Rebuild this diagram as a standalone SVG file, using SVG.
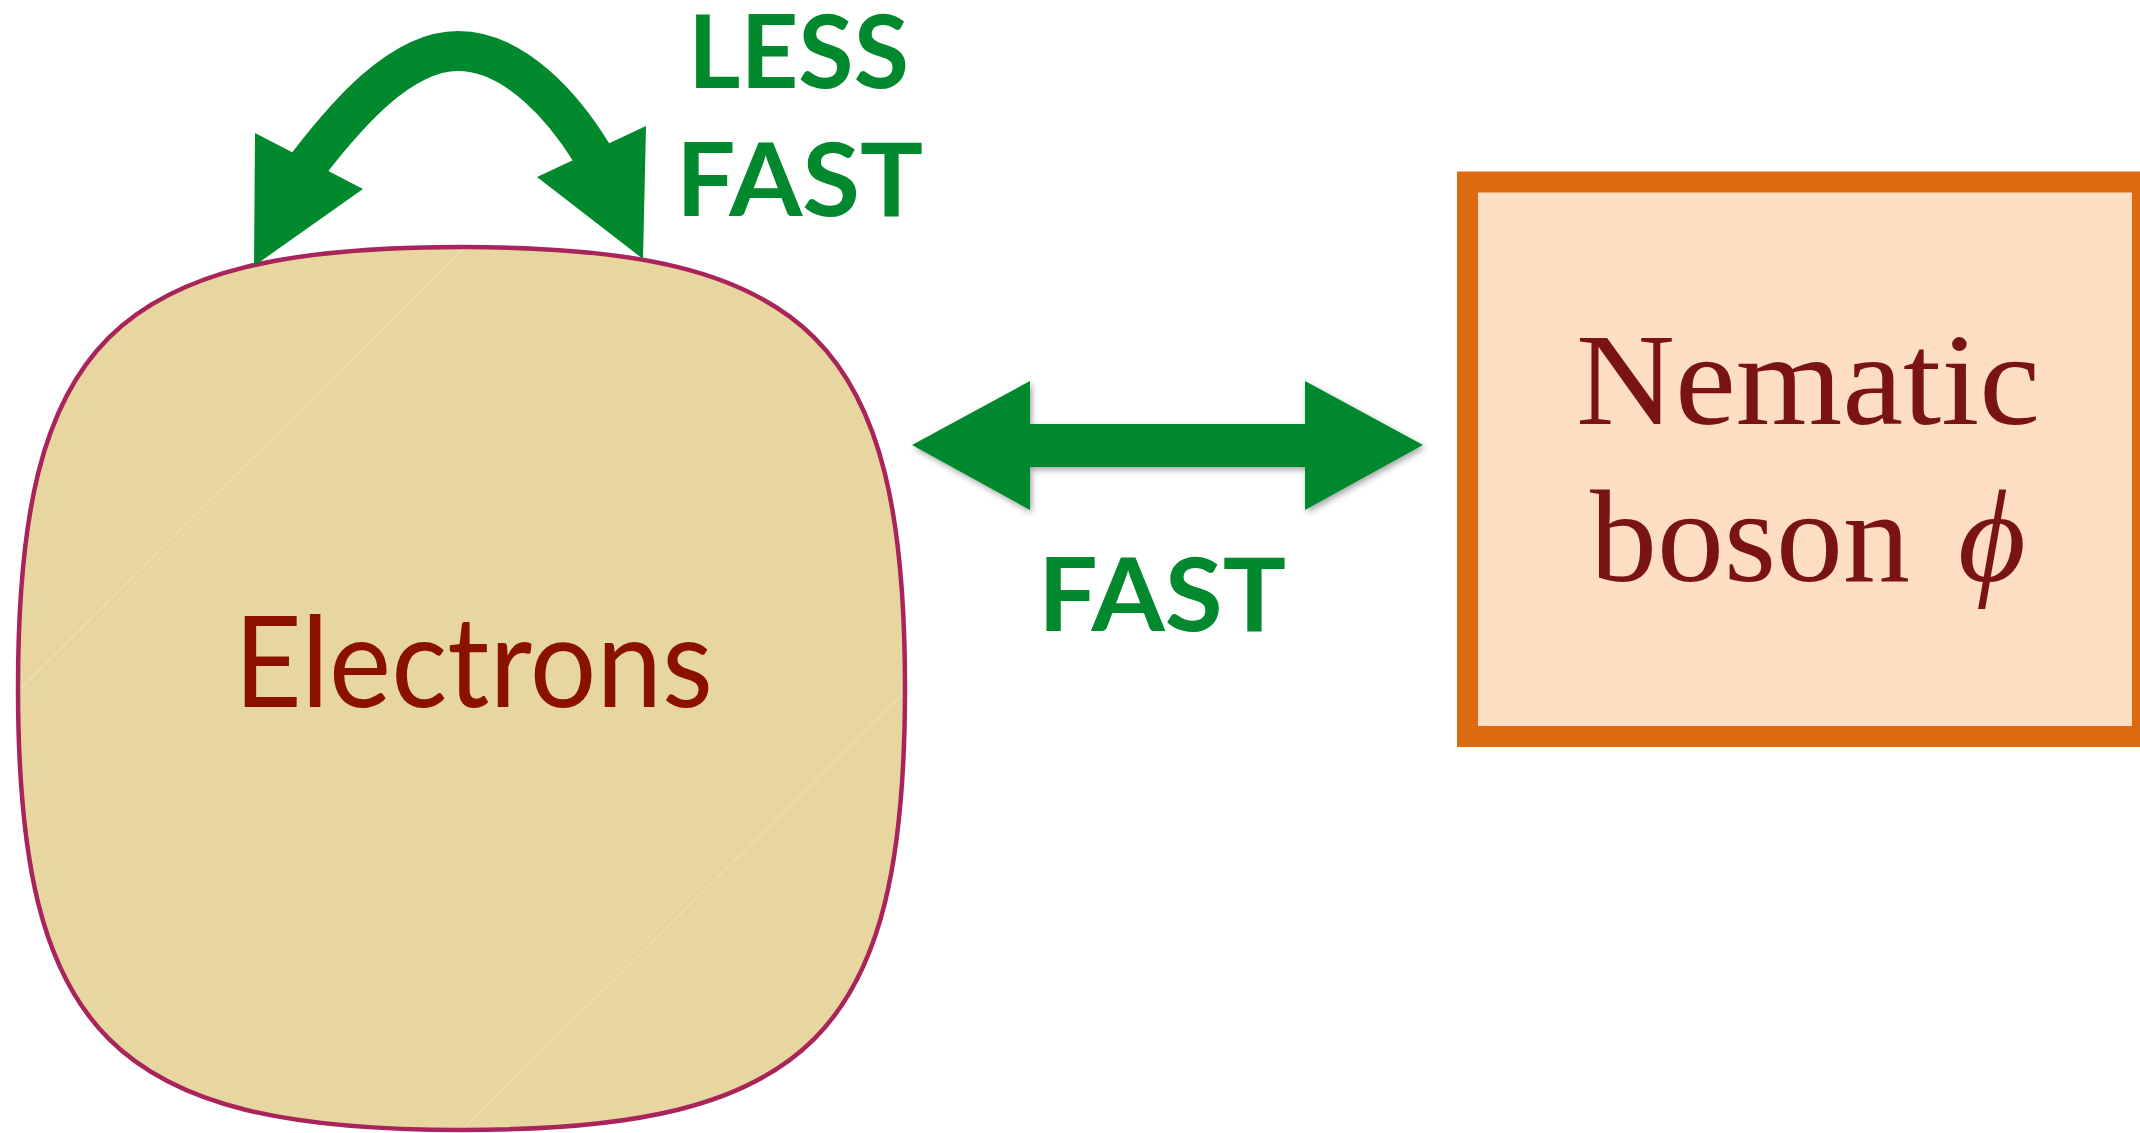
<svg xmlns="http://www.w3.org/2000/svg" width="2140" height="1133" viewBox="0 0 2140 1133">
<style>
.green{fill:#02882D}
.lbl{font-family:Lato,"Open Sans","Liberation Sans",sans-serif;font-weight:700;font-size:101px;fill:#02882D}
.cm{font-family:"Liberation Serif","DejaVu Serif",serif;font-size:131px;fill:#7A1313}
</style>
<defs>
<filter id="sh" x="-10%" y="-20%" width="120%" height="140%">
<feDropShadow dx="2" dy="3" stdDeviation="3" flood-color="#000" flood-opacity="0.35"/>
</filter>
</defs>
<rect width="2140" height="1133" fill="#fff"/>
<g id="electrons">
<path d="M462,247 C113,247 18,341 18,688 C18,1035 113,1130 462,1130 C810,1130 905,1035 905,688 C905,341 810,247 462,247 Z" fill="#E8D6A1" stroke="#A8245A" stroke-width="4.5"/>
<line x1="462" y1="250" x2="21" y2="688" stroke="#EEDFB4" stroke-width="1.2"/>
<line x1="902" y1="695" x2="465" y2="1127" stroke="#EEDFB4" stroke-width="1.2"/>
<text x="234" y="707" textLength="479" lengthAdjust="spacingAndGlyphs" style="font-family:Lato,'Open Sans','Liberation Sans',sans-serif;font-size:127px;fill:#8A1000">Electrons</text>
</g>
<g id="nematic">
<rect x="1467.5" y="182" width="675" height="554.5" fill="#FDDEC3" stroke="#DD6A10" stroke-width="21"/>
<text class="cm" x="1576" y="424" textLength="464" lengthAdjust="spacingAndGlyphs">Nematic</text>
<text class="cm" x="1590" y="581" textLength="320" lengthAdjust="spacingAndGlyphs">boson</text>
<text class="cm" x="1958" y="581" font-style="italic">ϕ</text>
</g>
<g id="connectors">
<g id="self-loop">
<path d="M296,180 L310,162 C345,117 400,51 458,51 C516,51 565,110 591,152 L603,171" fill="none" stroke="#02882D" stroke-width="40"/>
<polygon class="green" points="255,133 363,189 254,266"/>
<polygon class="green" points="646,126 537,177 643,259"/>
<text class="lbl" x="688" y="88" textLength="221" lengthAdjust="spacingAndGlyphs">LESS</text>
<text class="lbl" x="676" y="216" textLength="247" lengthAdjust="spacingAndGlyphs">FAST</text>
</g>
<g id="electrons-nematic">
<polygon class="green" filter="url(#sh)" points="912,445 1030,381 1030,424 1305,424 1305,381 1423,445 1305,510 1305,467 1030,467 1030,510"/>
<text class="lbl" x="1038" y="631" textLength="248" lengthAdjust="spacingAndGlyphs">FAST</text>
</g>
</g>
</svg>
